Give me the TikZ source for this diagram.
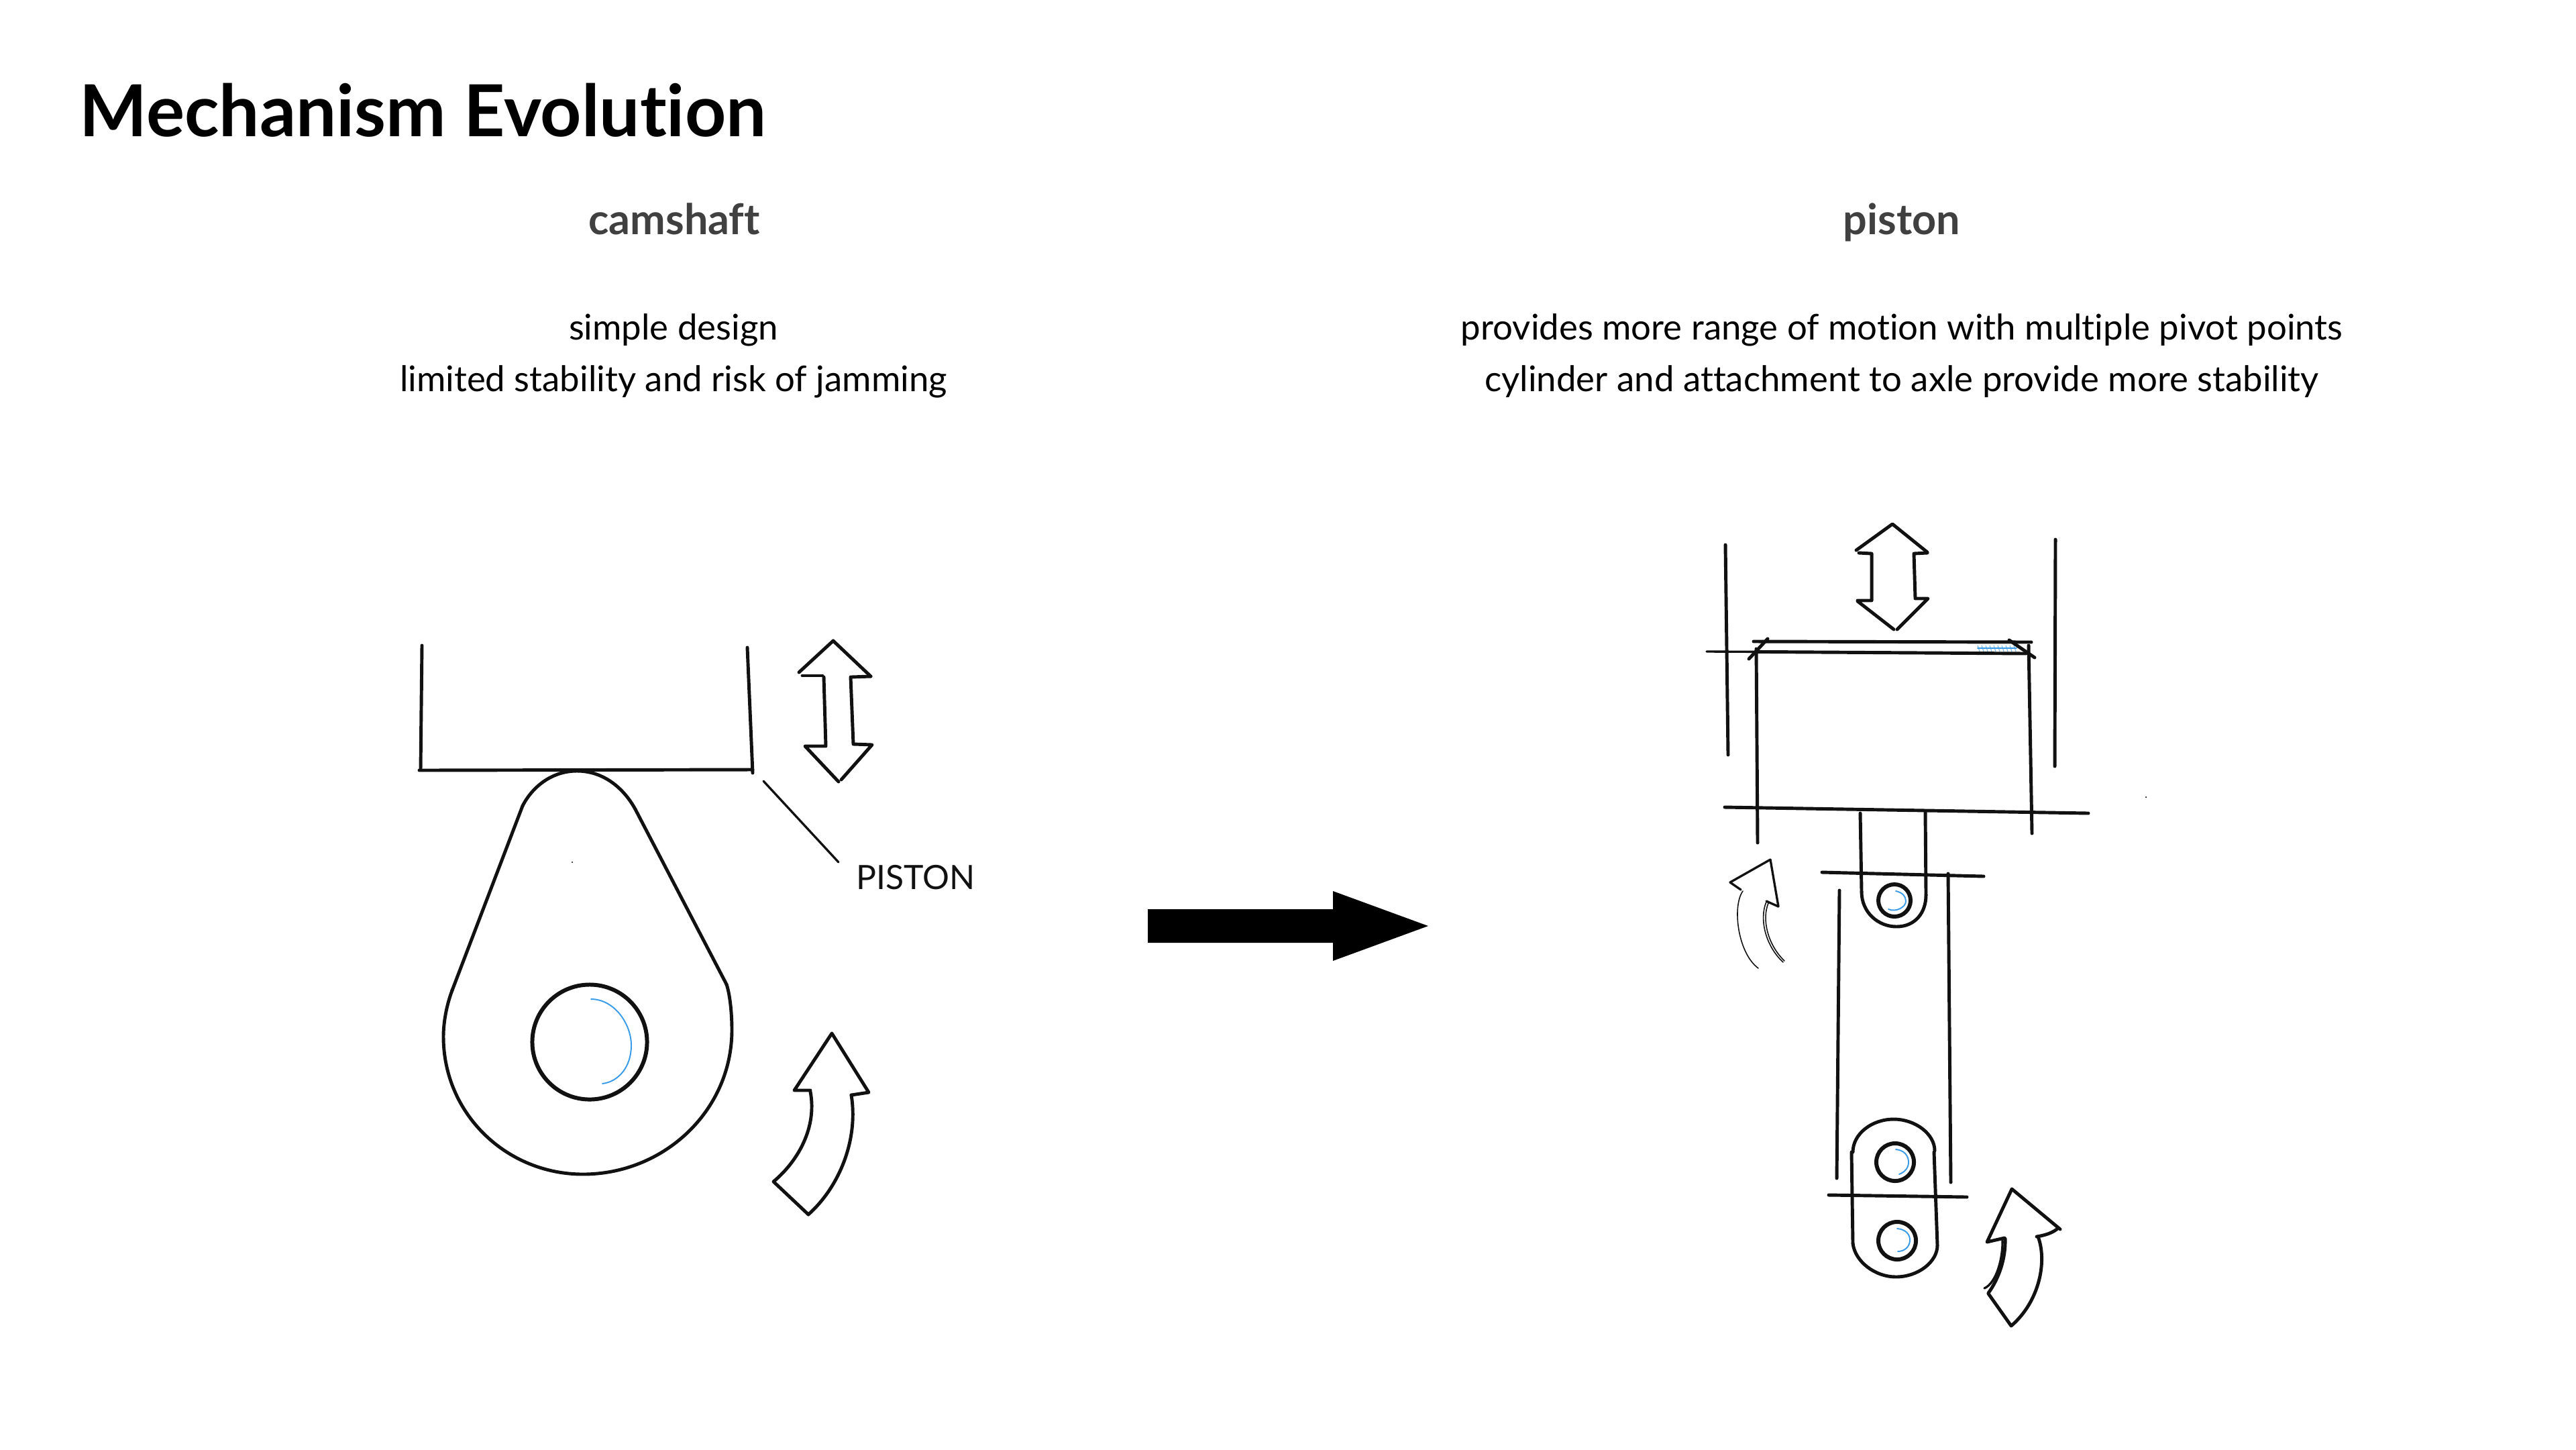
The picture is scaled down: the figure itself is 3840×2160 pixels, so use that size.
\documentclass[tikz,border=0pt]{standalone}
\usepackage{fontspec}
\setmainfont{Lato}[Ligatures=NoCommon]
\definecolor{subgray}{HTML}{404040}
\definecolor{pen}{HTML}{111111}
\definecolor{penblue}{HTML}{3A9BEA}
\tikzset{
  ink/.style={draw=pen,line width=1.4pt,line cap=round,line join=round},
  inkheavy/.style={draw=pen,line width=1.7pt,line cap=round,line join=round},
  inklight/.style={draw=pen,line width=0.95pt,line cap=round,line join=round},
  inkthin/.style={draw=pen,line width=0.45pt,line cap=round,line join=round},
  bluepen/.style={draw=penblue,line width=0.55pt,line cap=round},
  titletext/.style={anchor=base west,inner sep=0pt,font=\fontsize{30.4pt}{31pt}\selectfont\bfseries,text=black},
  headtext/.style={anchor=base,inner sep=0pt,font=\fontsize{17.9pt}{18pt}\selectfont\bfseries,text=subgray},
  bodytext/.style={anchor=base,inner sep=0pt,font=\fontsize{15pt}{16pt}\selectfont,text=black},
  handtext/.style={anchor=base west,inner sep=0pt,font=\fontsize{14.2pt}{15pt}\selectfont,text=pen}
}
\begin{document}
\begin{tikzpicture}[x=0.01cm,y=-0.01cm]
\useasboundingbox[fill=white] (0,0) rectangle (3840,2160);
% texts
\node[titletext] (title) at (118,203) {Mechanism Evolution};
\node[headtext] (camhead) at (1005,349) {camshaft};
\node[headtext] (pishead) at (2835,349) {piston};
\node[bodytext] (cam1) at (1004,506) {simple design};
\node[bodytext] (cam2) at (1004,583) {limited stability and risk of jamming};
\node[bodytext] (pis1) at (2835,506) {provides more range of motion with multiple pivot points};
\node[bodytext] (pis2) at (2835,583) {cylinder and attachment to axle provide more stability};
% big arrow
\fill[black] (1711,1355) -- (1987,1355) -- (1987,1328) -- (2129,1380) -- (1987,1432) -- (1987,1405) -- (1711,1405) -- cycle;
% --- camshaft drawing ---
\draw[ink] (629,962) -- (627,1147);
\draw[ink] (1114,965) -- (1122,1152);
\draw[ink] (625,1148) -- (1122,1147);
\node[handtext] (pistonlabel) at (1276,1325) {PISTON};
\coordinate (leadA) at (1138,1164);
\coordinate (leadB) at (1250,1285);
\draw[inklight] (leadA) -- (leadB);
% cam
\draw[ink] (779,1201) .. controls (795,1170) and (825,1149) .. (860,1149) .. controls (900,1149) and (930,1175) .. (947,1206);
\draw[ink] (779,1201) -- (674,1476);
\draw[ink] (947,1206) -- (1083,1467);
\draw[ink] (674,1476) .. controls (665,1500) and (661,1525) .. (661,1545) .. controls (661,1660) and (755,1750) .. (869,1750) .. controls (990,1750) and (1091,1655) .. (1091,1535) .. controls (1091,1515) and (1089,1485) .. (1083,1467);
\draw[inkheavy] (879,1553) circle[radius=0.855cm];
\draw[bluepen] (881,1489) .. controls (915,1489) and (941,1525) .. (941,1558) .. controls (941,1590) and (922,1612) .. (898,1615);
\fill[pen] (853,1285) circle[radius=0.012cm];
% straight double arrow
\draw[ink] (1242,955) -- (1191,1002);
\draw[ink] (1242,955) -- (1298,1008);
\draw[ink] (1196,1007) -- (1226,1007);
\draw[ink] (1228,1009) -- (1231,1112) -- (1200,1112) -- (1250,1165);
\draw[ink] (1268,1009) -- (1272,1109);
\draw[ink] (1269,1009) -- (1298,1008);
\draw[ink] (1273,1109) -- (1300,1110) -- (1254,1162);
% curved arrow
\draw[ink] (1208,1625) -- (1184,1625) -- (1240,1540) -- (1295,1628) -- (1269,1632);
\draw[ink] (1208,1627) .. controls (1218,1680) and (1190,1730) .. (1153,1761) -- (1205,1810);
\draw[ink] (1269,1632) .. controls (1280,1700) and (1250,1770) .. (1205,1810);
% --- piston drawing ---
\draw[ink] (2572,812) -- (2576,1125);
\draw[ink] (3064,804) -- (3063,1142);
% up/down arrow
\draw[ink] (2767,820) -- (2821,781) -- (2873,823);
\draw[ink] (2771,824) -- (2790,825) -- (2790,895) -- (2769,895) -- (2769,896) -- (2823,938);
\draw[ink] (2873,824) -- (2853,825) -- (2855,892) -- (2874,892) -- (2828,938);
% piston head
\foreach \xx in {2948,2954,...,3006} {\draw[bluepen,line width=0.3pt,opacity=0.7] (\xx,962) -- (\xx+3,971);}
\draw[bluepen,line width=0.5pt] (2948,966) -- (3006,966);
\draw[ink] (2614,956) -- (3028,957);
\draw[ink] (2620,971.4) -- (3020,974);
\draw[inklight] (2544,971) -- (2620,971.4);
\draw[ink] (2635,952) -- (2607,982);
\draw[ink] (2995,954) -- (3033,980);
\draw[ink] (2618,967) -- (2620,1256);
\draw[ink] (3024,962) -- (3029,1242);
\draw[ink] (2571,1203) -- (3113,1212);
\fill[pen] (3199,1188) circle[radius=0.012cm];
% stem and small end
\draw[ink] (2773,1212) -- (2775,1329);
\draw[ink] (2870,1210) -- (2871,1334);
\draw[ink] (2716,1300) -- (2957,1306);
\draw[ink] (2775,1329) .. controls (2775,1360) and (2800,1381) .. (2827,1381) .. controls (2855,1381) and (2871,1360) .. (2871,1334);
\draw[inkheavy] (2824,1342) circle[radius=0.24cm];
\draw[bluepen] (2826,1328) .. controls (2836,1330) and (2841,1336) .. (2841,1343) .. controls (2841,1352) and (2826,1360) .. (2815,1355);
% rod
\draw[ink] (2742,1327) -- (2738,1756);
\draw[ink] (2904,1302) -- (2908,1762);
% big end
\draw[ink] (2762,1717) .. controls (2762,1690) and (2790,1668) .. (2823,1668) .. controls (2855,1668) and (2884,1690) .. (2884,1715);
\draw[ink] (2760,1717) -- (2762,1853);
\draw[ink] (2883,1717) -- (2888,1856);
\draw[ink] (2762,1853) .. controls (2765,1880) and (2795,1903) .. (2826,1903) .. controls (2860,1903) and (2888,1880) .. (2888,1856);
\draw[ink] (2726,1781) -- (2932,1784);
\draw[inkheavy] (2825,1732) circle[radius=0.28cm];
\draw[inkheavy] (2828,1849) circle[radius=0.28cm];
\draw[bluepen] (2826,1713) .. controls (2838,1714) and (2845,1722) .. (2845,1732) .. controls (2845,1741) and (2839,1747) .. (2831,1750);
\draw[bluepen] (2828,1831) .. controls (2840,1832) and (2847,1839) .. (2847,1848) .. controls (2847,1858) and (2839,1865) .. (2829,1865);
% small curved arrow
\draw[inklight] (2595,1326) -- (2579,1315) -- (2639,1281) -- (2651,1351) -- (2633,1343);
\draw[inkthin] (2598,1328) .. controls (2582,1350) and (2590,1420) .. (2621,1443);
\draw[inkthin] (2633,1344) .. controls (2622,1370) and (2632,1410) .. (2658,1434);
\draw[inkthin] (2636,1346) .. controls (2626,1370) and (2635,1408) .. (2660,1432);
% large curved arrow
\draw[ink] (2988,1845) -- (2962,1851) -- (2999,1772) -- (3071,1832);
\draw[ink] (3066,1832) .. controls (3058,1838) and (3048,1841) .. (3036,1843);
\draw[ink] (3038,1843) .. controls (3052,1880) and (3040,1940) .. (2998,1976) -- (2964,1928);
\draw[ink] (2989,1846) .. controls (2990,1875) and (2980,1905) .. (2964,1927);
\draw[inklight] (2985,1847) .. controls (2986,1875) and (2976,1912) .. (2958,1920);
\end{tikzpicture}
\end{document}
